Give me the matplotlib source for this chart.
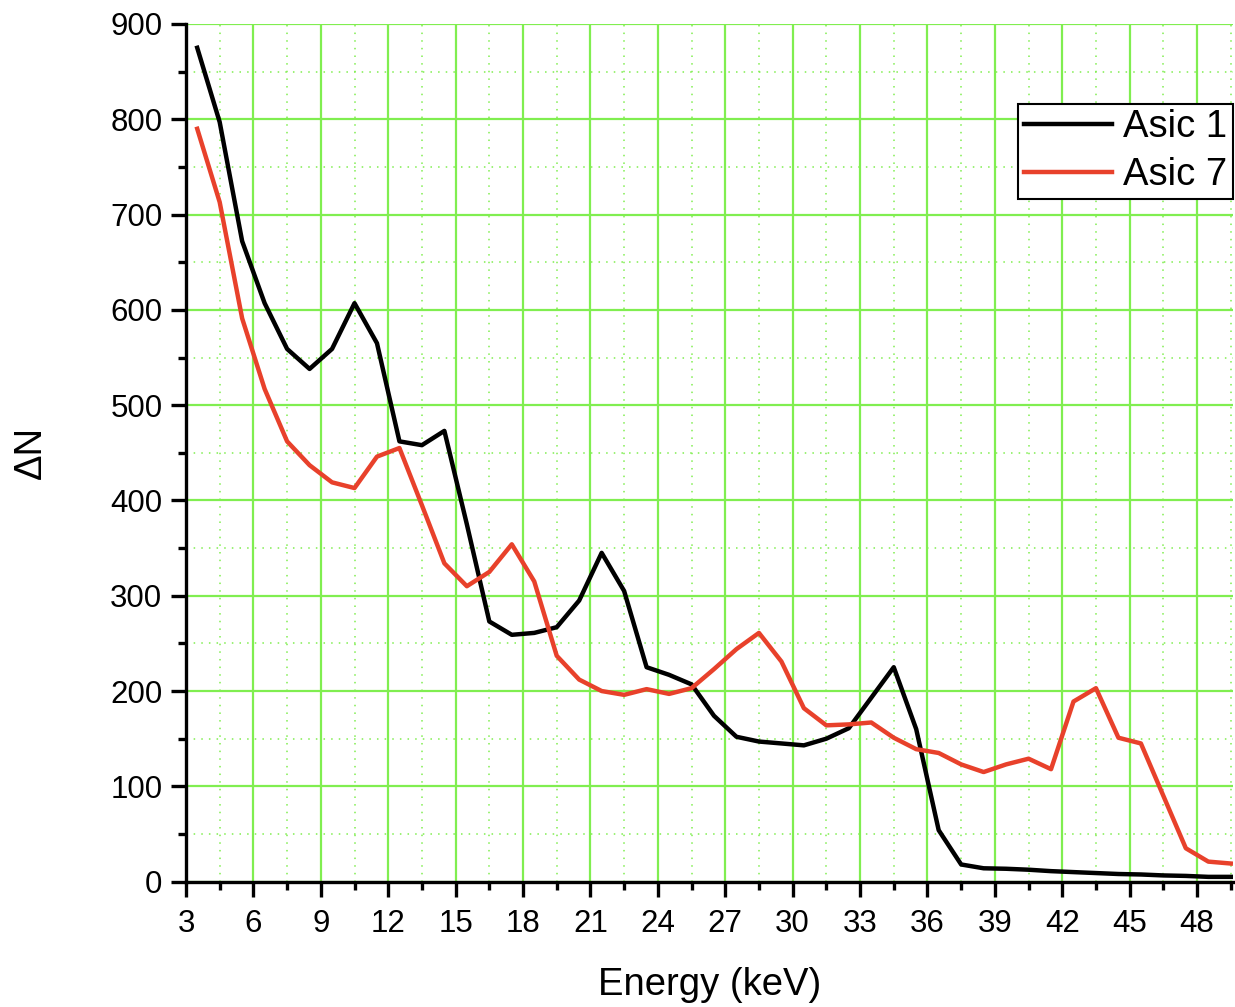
import numpy as np
import matplotlib.pyplot as plt
from matplotlib.ticker import MultipleLocator

plt.rcParams['font.family'] = ['Liberation Sans', 'DejaVu Sans']

# energy bins (keV)
energy = np.arange(3.5, 50.0, 1.0)

asic1 = [875, 797, 672, 607, 559, 538, 559, 607, 565, 462,
         458, 473, 375, 273, 259, 261, 267, 295, 345, 305,
         225, 217, 207, 174, 152, 147, 145, 143, 150, 161,
         193, 225, 160, 54, 18, 14, 13.5, 12.5, 11, 10,
         9, 8, 7.5, 6.5, 6, 5, 5]

asic7 = [790, 713, 591, 517, 462, 437, 419, 413, 446, 455,
         395, 334, 310, 325, 354, 315, 237, 212, 200, 196,
         202, 197, 203, 223, 244, 261, 231, 182, 164, 165,
         167, 151, 139, 135, 123, 115, 123, 129, 118, 189,
         203, 151, 145, 90, 35, 21, 19]

grid_green = '#80EE50'


def main():
    fig = plt.figure(figsize=(12.35, 10.07), dpi=100)
    ax = fig.add_axes([0.1506, 0.1245, 0.8478, 0.8517])

    ax.plot(energy, asic1, color='black', lw=3.2, label='Asic 1', zorder=3)
    ax.plot(energy, asic7, color='#E8412B', lw=3.2, label='Asic 7', zorder=3)

    ax.set_xlim(3, 49.6)
    ax.set_ylim(0, 900)
    ax.xaxis.set_major_locator(MultipleLocator(3))
    ax.xaxis.set_minor_locator(MultipleLocator(1.5))
    ax.yaxis.set_major_locator(MultipleLocator(100))
    ax.yaxis.set_minor_locator(MultipleLocator(50))

    ax.grid(which='major', color=grid_green, lw=1.6, ls='-', zorder=0)
    ax.grid(which='minor', color=grid_green, lw=1.1, ls=(0, (1, 4)), zorder=0)
    ax.set_axisbelow(True)

    for side in ['top', 'right']:
        ax.spines[side].set_visible(False)
    for side in ['left', 'bottom']:
        ax.spines[side].set_linewidth(2.4)

    ax.tick_params(which='major', direction='out', length=11, width=2.4,
                   labelsize=22.5, pad=6)
    ax.tick_params(axis='x', which='major', pad=9)
    ax.tick_params(which='minor', direction='out', length=6, width=2.4)

    ax.set_xlabel('Energy (keV)', fontsize=27.5, labelpad=20)
    ax.set_ylabel('\u0394N', fontsize=27.5, labelpad=44)

    leg = ax.legend(loc='upper right', bbox_to_anchor=(1.0, 0.907), fontsize=27.5,
                    frameon=True, fancybox=False, edgecolor='black',
                    handlelength=2.3, handletextpad=0.3, borderpad=0.15,
                    labelspacing=0.3, borderaxespad=0)
    leg.get_frame().set_linewidth(1.5)
    leg.get_frame().set_alpha(1)

    fig.savefig('out.png', dpi=100)


if __name__ == '__main__':
    main()
